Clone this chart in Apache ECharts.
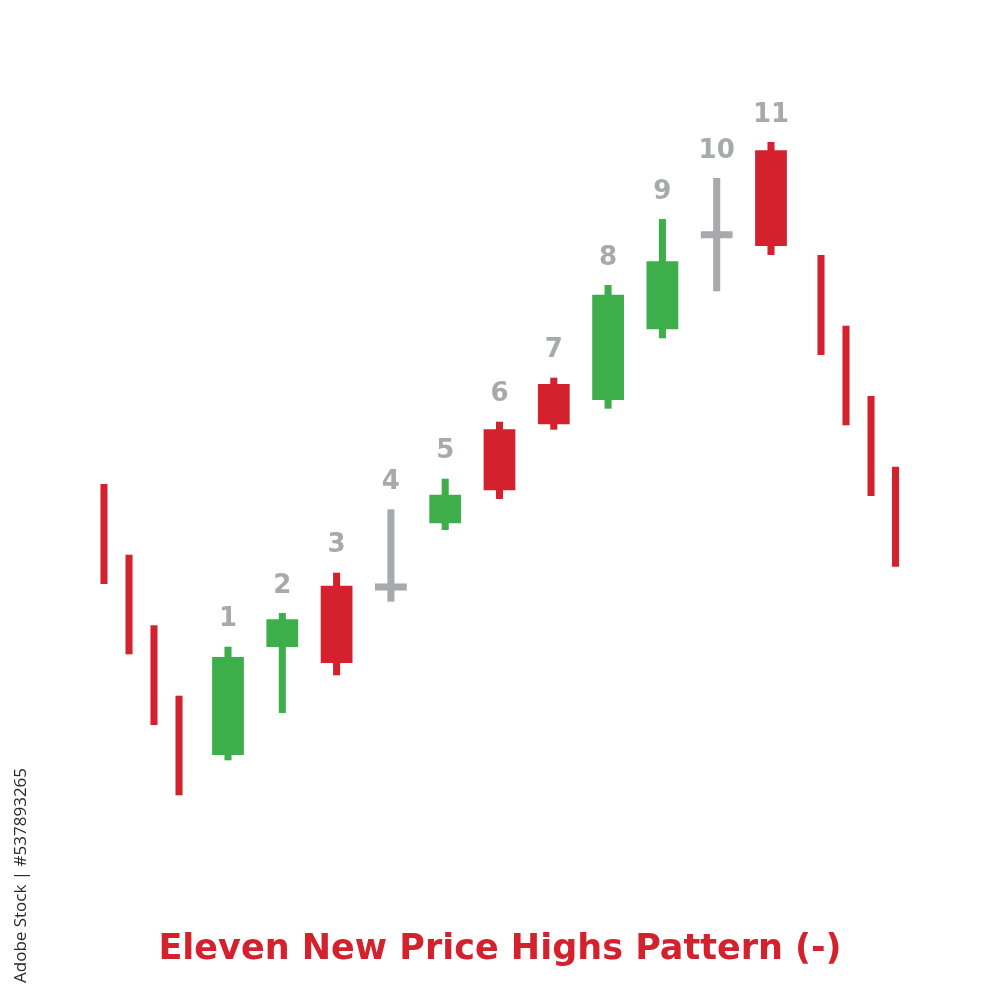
<!DOCTYPE html>
<html>
<head>
<meta charset="utf-8">
<script src="https://cdn.jsdelivr.net/npm/echarts@6/dist/echarts.min.js"></script>
<style>html,body{margin:0;padding:0;background:#fff;}#chart{width:1000px;height:1000px;}</style>
</head>
<body>
<div id="chart"></div>
<script>
// Position of each candle along the time axis
const candleX = [1, 2, 3, 4, 5, 6, 7, 8, 9, 10, 11];
const candleLabels = ['1', '2', '3', '4', '5', '6', '7', '8', '9', '10', '11'];
// open, close, low, high
const candleOpen  = [24.5, 35.3, 41.43, 41.3, 47.67, 57.07, 61.6, 60.0, 67.07, 76.52, 84.97];
const candleClose = [34.3, 38.07, 33.7, 41.3, 50.53, 50.97, 57.57, 70.53, 73.87, 76.52, 75.4];
const candleLow   = [23.97, 28.7, 32.47, 39.83, 47.0, 50.1, 57.03, 59.13, 66.17, 70.87, 74.5];
const candleHigh  = [35.33, 38.7, 42.73, 49.07, 52.13, 57.83, 62.23, 71.5, 78.1, 82.2, 85.8];

// Thin bearish lines before and after the pattern
const lineX    = [-1.284, -0.823, -0.363, 0.098, 11.921, 12.381, 12.842, 13.293];
const lineHigh = [51.6, 44.53, 37.47, 30.43, 74.5, 67.43, 60.4, 53.33];
const lineLow  = [41.6, 34.57, 27.5, 20.47, 64.5, 57.47, 50.4, 43.33];

const titleText = 'Eleven New Price Highs Pattern (-)';
const stockId = 'Adobe Stock | #537893265';

const RED = '#D3212D', GREEN = '#3DAE4A', GRAY = '#A7A9AC';

const candleData = candleX.map((x, i) => [x, candleOpen[i], candleClose[i], candleLow[i], candleHigh[i], i]);
const lineData = lineX.map((x, i) => [x, lineHigh[i], lineLow[i]]);

const chart = echarts.init(document.getElementById('chart'), null, {renderer: 'canvas'});
chart.setOption({
  backgroundColor: '#ffffff',
  animation: false,
  title: {
    text: titleText,
    left: 'center',
    top: 927,
    textStyle: {fontFamily: 'DejaVu Sans', fontWeight: 'bold', fontSize: 35, color: RED}
  },
  graphic: [{
    type: 'text',
    x: 21, y: 983,
    rotation: Math.PI / 2,
    style: {text: stockId, fill: '#2a2a2a', font: '17px "Open Sans"', align: 'left', verticalAlign: 'middle'}
  }],
  grid: {left: 10.8, right: 11.8, top: 0, bottom: 0},
  xAxis: {type: 'value', min: -3, max: 15, show: false},
  yAxis: {type: 'value', min: 0, max: 100, show: false},
  series: [
    {
      type: 'custom',
      data: lineData,
      renderItem: function (params, api) {
        const x = api.value(0);
        const pH = api.coord([x, api.value(1)]);
        const pL = api.coord([x, api.value(2)]);
        const w = api.size([1, 0])[0] * 0.13;
        return {
          type: 'rect',
          shape: {x: pH[0] - w / 2, y: pH[1], width: w, height: pL[1] - pH[1]},
          style: {fill: RED}
        };
      }
    },
    {
      type: 'custom',
      data: candleData,
      renderItem: function (params, api) {
        const x = api.value(0);
        const open = api.value(1), close = api.value(2), low = api.value(3), high = api.value(4);
        const idx = api.value(5);
        const pH = api.coord([x, high]);
        const pL = api.coord([x, low]);
        const pO = api.coord([x, open]);
        const pC = api.coord([x, close]);
        const unit = api.size([1, 0])[0];
        const ww = unit * 0.13;
        const bw = unit * 0.585;
        const color = close > open ? GREEN : (close < open ? RED : GRAY);
        const children = [{
          type: 'rect',
          shape: {x: pH[0] - ww / 2, y: pH[1], width: ww, height: pL[1] - pH[1]},
          style: {fill: color}
        }];
        if (open === close) {
          children.push({
            type: 'rect',
            shape: {x: pO[0] - bw / 2, y: pO[1] - ww / 2, width: bw, height: ww},
            style: {fill: color}
          });
        } else {
          const top = Math.min(pO[1], pC[1]);
          children.push({
            type: 'rect',
            shape: {x: pO[0] - bw / 2, y: top, width: bw, height: Math.abs(pO[1] - pC[1])},
            style: {fill: color}
          });
        }
        children.push({
          type: 'text',
          x: pH[0], y: pH[1] - 27,
          style: {
            text: candleLabels[idx], fill: GRAY,
            font: 'bold 26px "DejaVu Sans"', align: 'center', verticalAlign: 'middle'
          }
        });
        return {type: 'group', children: children};
      }
    }
  ]
});
</script>
</body>
</html>
